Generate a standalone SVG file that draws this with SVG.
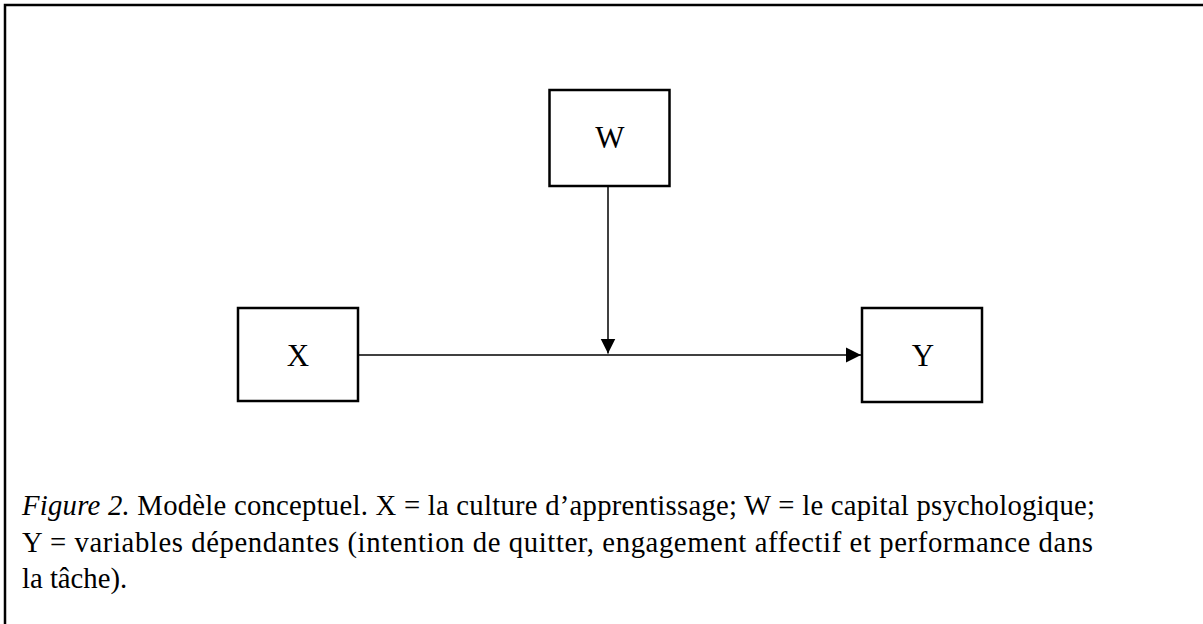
<svg xmlns="http://www.w3.org/2000/svg" width="1203" height="624" viewBox="0 0 1203 624">
<style>
.box{fill:#fff;stroke:#000;stroke-width:2.5}
.lbl{font-family:"Liberation Serif","Times New Roman",serif;font-size:31px;text-anchor:middle;fill:#000}
.cap{font-family:"Liberation Serif","Times New Roman",serif;font-size:28.7px;fill:#000}
.edge{stroke:#000;stroke-width:1.5;fill:none}
</style>
<defs>
<marker id="arr" viewBox="0 0 10 10" refX="10" refY="5" markerUnits="userSpaceOnUse" markerWidth="15" markerHeight="16" orient="auto">
<path d="M0,0 L10,5 L0,10 Z" fill="#000"/>
</marker>
</defs>
<rect width="1203" height="624" fill="#fff"/>
<path d="M5,624 V5 H1203" fill="none" stroke="#000" stroke-width="2.5"/>
<g id="connectors">
<line class="edge" x1="359" y1="355" x2="861" y2="355" marker-end="url(#arr)"/>
<line class="edge" x1="608" y1="187" x2="608" y2="353.5" marker-end="url(#arr)"/>
</g>
<g id="node-W">
<rect class="box" x="549.5" y="90" width="120" height="96"/>
<text class="lbl" x="610" y="148">W</text>
</g>
<g id="node-X">
<rect class="box" x="238" y="308" width="120" height="93"/>
<text class="lbl" x="298" y="366">X</text>
</g>
<g id="node-Y">
<rect class="box" x="862" y="308" width="120" height="94"/>
<text class="lbl" x="923" y="366">Y</text>
</g>
<g id="caption">
<text class="cap" x="22" y="515" textLength="1073" lengthAdjust="spacing"><tspan font-style="italic">Figure 2.</tspan> Modèle conceptuel. X = la culture d’apprentissage; W = le capital psychologique;</text>
<text class="cap" x="22" y="552" textLength="1071" lengthAdjust="spacing">Y = variables dépendantes (intention de quitter, engagement affectif et performance dans</text>
<text class="cap" x="22" y="588">la tâche).</text>
</g>
</svg>
